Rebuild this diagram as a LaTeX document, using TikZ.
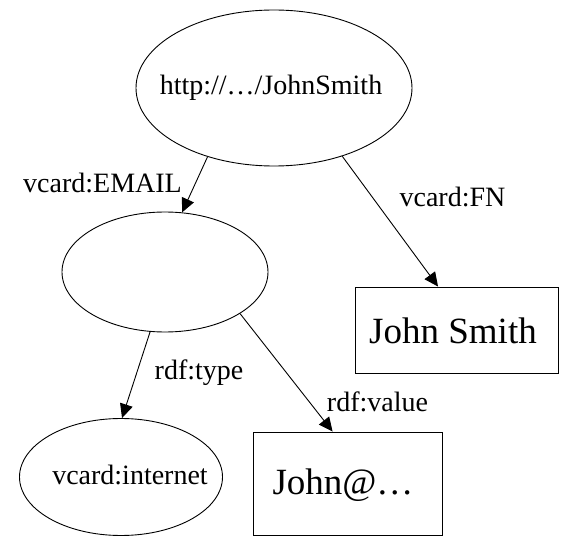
\documentclass[tikz,border=0pt]{standalone}
\usepackage{fontspec}
\setmainfont{Liberation Serif}
\usetikzlibrary{shapes.geometric, arrows.meta}

\begin{document}
\begin{tikzpicture}[x=1pt,y=-1pt,line width=0.9pt,
  res/.style={draw,shape=ellipse,inner sep=0pt,font=\fontsize{28}{34}\selectfont},
  lit/.style={draw,shape=rectangle,inner sep=0pt,font=\fontsize{37}{44}\selectfont},
  prop/.style={inner sep=0pt,font=\fontsize{28}{34}\selectfont},
  edge/.style={-{Triangle[length=14pt,width=13pt]}}]
  \useasboundingbox (0,0) rectangle (563,540);
  % resources and literals
  \path (274,88) node[res,minimum width=276pt,minimum height=156pt] (john) {}
  (165,272) node[res,minimum width=206pt,minimum height=120pt] (mail) {}
  (121,477) node[res,minimum width=203pt,minimum height=117pt] (inet) {}
  (456.5,330) node[lit,minimum width=203pt,minimum height=86pt] (fn) {}
  (347.5,483.5) node[lit,minimum width=189pt,minimum height=103pt] (addr) {};
  \node[prop] (johnt) at (271,88) {http://…/JohnSmith};
  \node[prop] (inett) at (130,475) {vcard:internet};
  \node[prop,font=\fontsize{37}{44}\selectfont] (fnt) at (453,331) {John Smith};
  \node[prop,font=\fontsize{37}{44}\selectfont] (addrt) at (343,485) {John@…};
  % properties
  \draw[edge] (john.226) -- (mail.74);
  \draw[edge] (john.315) -- (fn.113);
  \draw[edge] (mail.256) -- (inet.89);
  \draw[edge] (mail.331) -- (addr.106);
  \node[prop] (email) at (102.5,183) {vcard:EMAIL};
  \node[prop] (fnl) at (452.5,197) {vcard:FN};
  \node[prop] (type) at (199,373) {rdf:type};
  \node[prop] (value) at (377.5,402) {rdf:value};
\end{tikzpicture}
\end{document}
